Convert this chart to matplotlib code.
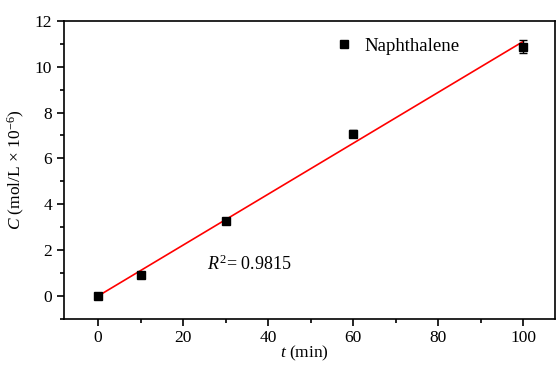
import numpy as np
import matplotlib.pyplot as plt
from matplotlib.lines import Line2D
from matplotlib.ticker import MultipleLocator

plt.rcParams['font.family'] = ['Liberation Serif', 'DejaVu Serif']
plt.rcParams['mathtext.fontset'] = 'custom'
plt.rcParams['mathtext.rm'] = 'Liberation Serif'
plt.rcParams['mathtext.it'] = 'Liberation Serif:italic'

t = [0, 10, 30, 60, 100]
conc = [0.0, 0.92, 3.27, 7.08, 10.88]
conc_err = [0.05, 0.06, 0.08, 0.17, 0.3]

slope, intercept = np.polyfit(t, conc, 1)
t_fit = np.array([0, 100])

fig = plt.figure(figsize=(5.58, 3.65), dpi=100)
ax = fig.add_axes([64/558, 1-318.5/365, (555-64)/558, (318.5-21)/365])

ax.plot(t_fit, slope*t_fit + intercept, color="red", lw=1.2, zorder=2)
ax.errorbar(t, conc, yerr=conc_err, fmt='s', color="black", ms=6, capsize=3,
            elinewidth=1, capthick=1, zorder=3)

ax.set_xlim(-8, 107.5)
ax.set_ylim(-1, 12)
ax.xaxis.set_major_locator(MultipleLocator(20))
ax.xaxis.set_minor_locator(MultipleLocator(10))
ax.yaxis.set_major_locator(MultipleLocator(2))
ax.yaxis.set_minor_locator(MultipleLocator(1))
ax.tick_params(which='both', direction='out', top=False, right=False, labelsize=12.5, width=1.2)
ax.tick_params(which='major', length=5)
ax.tick_params(which='minor', length=3)
for s in ax.spines.values():
    s.set_linewidth(1.2)

ax.set_xlabel(r'$t$ (min)', fontsize=12.5)
ax.set_ylabel(r'$C$ (mol/L $\times$ 10$^{\mathrm{-6}}$)', fontsize=12.5)
ax.xaxis.set_label_coords(0.49, -0.085)
ax.yaxis.set_label_coords(-0.075, 0.5)

proxy = Line2D([], [], marker='s', ls='none', color='black', ms=5.5)
ax.legend([proxy], ['Naphthalene'], loc='center left', bbox_to_anchor=(0.513, 0.915),
          frameon=False, fontsize=13.5, handletextpad=0.5, handlelength=1.2)
ax.text(25.6, 1.35, r'$R^2$= 0.9815', fontsize=13, va='center')

fig.savefig("out.png", dpi=100)
